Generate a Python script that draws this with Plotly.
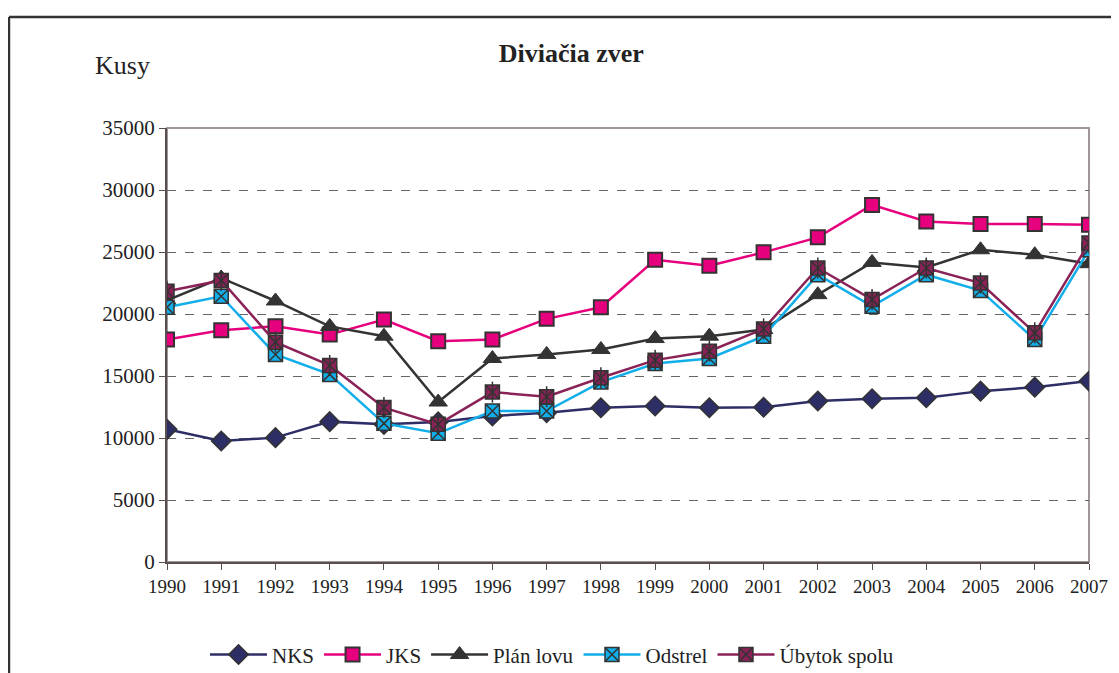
import plotly.graph_objects as go

years = list(range(1990, 2008))
nks = [10700, 9760, 10030, 11320, 11100, 11300, 11770, 12040, 12440, 12580, 12440, 12480,
       12980, 13170, 13250, 13780, 14100, 14590]
jks = [17940, 18690, 19010, 18340, 19550, 17810, 17940, 19610, 20540, 24380, 23900, 24970,
       26180, 28800, 27460, 27250, 27250, 27200]
plan_lovu = [21100, 22900, 21050, 19000, 18210, 12900, 16410, 16740, 17140, 18020, 18210, 18750,
             21560, 24160, 23760, 25180, 24780, 24060]
odstrel = [20540, 21430, 16740, 15130, 11180, 10380, 12170, 12170, 14510, 16010, 16410, 18210,
           23170, 20620, 23170, 21890, 17940, 25180]
ubytok = [21830, 22710, 17730, 15850, 12450, 11100, 13700, 13330, 14860, 16280, 17000, 18800,
          23710, 21160, 23710, 22500, 18480, 25720]
y_ticks = [0, 5000, 10000, 15000, 20000, 25000, 30000, 35000]
y_tick_text = [str(v) for v in y_ticks]

FONT = "'Liberation Serif', 'Times New Roman', serif"
EDGE = "#333333"

fig = go.Figure()

fig.add_trace(go.Scatter(x=years, y=nks, name="NKS", mode="lines+markers",
                         line=dict(color="#2E2E66", width=2.5),
                         marker=dict(symbol="diamond", size=15, color="#2E2E66",
                                     line=dict(color=EDGE, width=1.5))))
fig.add_trace(go.Scatter(x=years, y=jks, name="JKS", mode="lines+markers",
                         line=dict(color="#E6007E", width=2.5),
                         marker=dict(symbol="square", size=14, color="#E6007E",
                                     line=dict(color=EDGE, width=2))))
fig.add_trace(go.Scatter(x=years, y=plan_lovu, name="Plán lovu", mode="lines+markers",
                         line=dict(color="#333333", width=2.5),
                         marker=dict(symbol="triangle-up", size=16, color="#333333",
                                     line=dict(color=EDGE, width=1))))
fig.add_trace(go.Scatter(x=years, y=odstrel, name="Odstrel", mode="lines+markers",
                         line=dict(color="#12AEEA", width=2.5),
                         marker=dict(symbol="square-x", size=14, color="#12AEEA",
                                     line=dict(color=EDGE, width=1.5))))
fig.add_trace(go.Scatter(x=years, y=ubytok, name="Úbytok spolu", mode="lines+markers",
                         line=dict(color="#8A2257", width=2.5),
                         marker=dict(symbol="square-x", size=14, color="#8A2257",
                                     line=dict(color=EDGE, width=1.5))))
fig.add_trace(go.Scatter(x=years, y=ubytok, mode="markers", showlegend=False, hoverinfo="skip",
                         marker=dict(symbol="line-ns-open", size=15, color=EDGE,
                                     line=dict(color=EDGE, width=1.5))))

fig.update_layout(
    width=1111, height=665,
    paper_bgcolor="white", plot_bgcolor="white",
    margin=dict(l=159, r=30, t=120, b=111, autoexpand=False),
    font=dict(family=FONT, size=19, color="#222222"),
    title=dict(text="<b>Diviačia zver</b>", x=0.507, xref="container", xanchor="center",
               y=1 - 45 / 665, yref="container", yanchor="middle",
               font=dict(family=FONT, size=26, color="#222222")),
    showlegend=True,
    legend=dict(orientation="h", x=0.4176, xref="paper", xanchor="center",
                y=-0.214, yanchor="middle", font=dict(family=FONT, size=21, color="#222222"),
                itemwidth=57, tracegroupgap=0, traceorder="normal"),
    annotations=[dict(text="Kusy", xref="paper", yref="paper", x=-0.080, y=1.143,
                      xanchor="left", yanchor="middle", showarrow=False,
                      font=dict(family=FONT, size=26, color="#222222"))],
    shapes=[
        dict(type="line", xref="paper", yref="paper", x0=-0.1714, x1=1.04, y0=1.2558, y1=1.2558,
             line=dict(color="#333333", width=2.5)),
        dict(type="line", xref="paper", yref="paper", x0=-0.1714, x1=-0.1714, y0=1.2558, y1=-0.3,
             line=dict(color="#333333", width=2.5)),
        dict(type="rect", xref="paper", yref="paper", x0=0, x1=1, y0=0, y1=1,
             line=dict(color="#A09898", width=2), layer="below"),
    ],
)

fig.update_xaxes(range=[1990, 2007], tickvals=years, ticktext=[str(y) for y in years],
                 showgrid=False, zeroline=False, showline=True, linecolor="#594F4F", linewidth=2,
                 ticks="outside", ticklen=6, tickcolor="#594F4F", tickwidth=1, automargin=False,
                 tickfont=dict(family=FONT, size=19, color="#222222"))
fig.update_yaxes(range=[0, 35000], tickvals=y_ticks, ticktext=y_tick_text, showgrid=True,
                 gridcolor="#666666", griddash="dash", gridwidth=1, zeroline=False, showline=True,
                 linecolor="#594F4F", linewidth=2, ticks="outside", ticklen=6, automargin=False,
                 tickcolor="#594F4F", tickfont=dict(family=FONT, size=21, color="#222222"))

fig.write_html("out.html")
